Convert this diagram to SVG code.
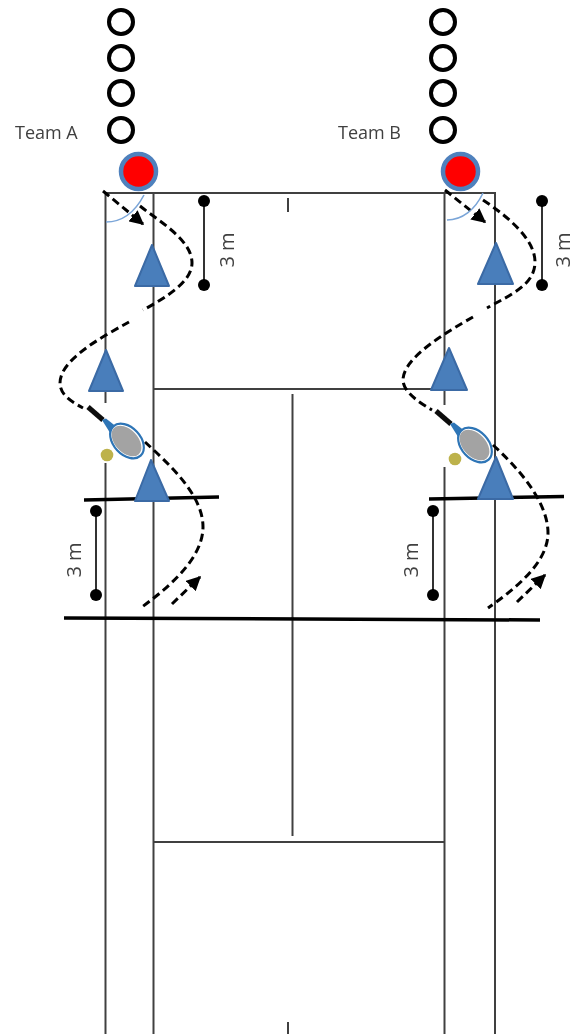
<svg xmlns="http://www.w3.org/2000/svg" width="575" height="1034" viewBox="0 0 575 1034">
<style>
.court{fill:none;stroke:#404040;stroke-width:2}
.thick{fill:none;stroke:#000;stroke-width:3.5}
.dash{fill:none;stroke:#000;stroke-width:3;stroke-dasharray:8 4.500}
.ring{fill:none;stroke:#000;stroke-width:4}
.red{fill:#f00;stroke:#4f81bd;stroke-width:4.500}
.cone{fill:#4a7ebb;stroke:#3a6aa5;stroke-width:2;stroke-linejoin:round}
.arc{fill:none;stroke:#7aa5d8;stroke-width:1.600}
.ball{fill:#bdb24c}
.dim{stroke:#333;stroke-width:2}
.lbl{font-family:"Open Sans","Liberation Sans",sans-serif;font-size:18px;fill:#404040}
.lbl3{font-family:"Open Sans","Liberation Sans",sans-serif;font-size:20px;fill:#404040}
.handle{stroke:#111;stroke-width:5}
.throat{fill:#2e75b6}
.frame{fill:#fff;stroke:#2e75b6;stroke-width:2.200}
.head{fill:#a3a3a3}
</style>
<defs>
<marker id="arrow" viewBox="0 0 10 10" refX="9" refY="5" markerWidth="4.800" markerHeight="4.800" orient="auto" markerUnits="strokeWidth"><path d="M0 0L10 5L0 10z" fill="#000"/></marker>
<filter id="soft" x="-5%" y="-5%" width="110%" height="110%"><feGaussianBlur stdDeviation="0.5"/></filter>
<g id="racket">
<line class="handle" x1="88" y1="407" x2="103" y2="420"/>
<path class="throat" d="M102 420L106 418.500L118 428L112 436z"/>
<ellipse class="frame" cx="127" cy="441" rx="20" ry="13.500" transform="rotate(47 127 441)"/>
<ellipse class="head" cx="126.500" cy="441" rx="18" ry="11.500" transform="rotate(47 126.500 441)"/>
<circle class="ball" cx="107" cy="455" r="6.300"/>
</g>
</defs>
<rect width="575" height="1034" fill="#fff"/>
<g filter="url(#soft)">
<g id="court">
<path class="court" d="M105.500 193V403M105.500 463V1034M153.500 193V1034M444.500 193V405M444.500 467V1034M495 193V1034M104 193H496M154 389H445M292.500 394V836M154 842H445M288 198V212M288 1022V1034"/>
<path class="thick" d="M84 500L219 497M429 499L564 496.500M64 618L540 620"/>
</g>
<g id="connectors">
<path class="dash" d="M103 191L143 224" marker-end="url(#arrow)"/>
<path class="dash" d="M140 206C160 222 192 240 192 263C192 282 165 298 143 310"/>
<path class="dash" d="M129 322C100 338 60 360 60 383C60 395 72 402 83 408"/>
<path class="dash" d="M145 442C170 465 203 495 203 527C203 560 165 590 142 607"/>
<path class="dash" d="M172 604L200 577" marker-end="url(#arrow)"/>
<path class="dash" d="M445 190L485 222" marker-end="url(#arrow)"/>
<path class="dash" d="M483 200C510 218 535 240 535 262C535 285 510 295 487 308"/>
<path class="dash" d="M473 317C445 333 403 358 403 380C403 392 420 403 432 410"/>
<path class="dash" d="M493 445C515 465 548 500 548 533C548 565 510 592 488 608"/>
<path class="dash" d="M517 602L545 575" marker-end="url(#arrow)"/>
<path class="arc" d="M144 195C135 212 122 222 106 222"/>
<path class="arc" d="M483 193C475 210 462 220 447 220"/>
</g>
<g id="team-a-queue">
<circle class="ring" cx="121" cy="22" r="12"/><circle class="ring" cx="121" cy="58" r="12"/><circle class="ring" cx="121" cy="93" r="12"/><circle class="ring" cx="121" cy="130" r="12"/>
</g>
<g id="team-b-queue">
<circle class="ring" cx="443" cy="22" r="12"/><circle class="ring" cx="443" cy="58" r="12"/><circle class="ring" cx="443" cy="93" r="12"/><circle class="ring" cx="443" cy="130" r="12"/>
</g>
<g id="team-a-label"><text class="lbl" x="15" y="138.500">Team A</text></g>
<g id="team-b-label"><text class="lbl" x="338" y="138.500">Team B</text></g>
<g id="player-a"><circle class="red" cx="138.500" cy="171.500" r="17.500"/></g>
<g id="player-b"><circle class="red" cx="460.500" cy="171.500" r="17.500"/></g>
<g id="cones-a">
<path class="cone" d="M152 245L135 286H169z"/>
<path class="cone" d="M106 350L89 391H123z"/>
<path class="cone" d="M151 460L135 501H169z"/>
</g>
<g id="cones-b">
<path class="cone" d="M496 243L478 284H513z"/>
<path class="cone" d="M449 348L431 390H467z"/>
<path class="cone" d="M496 457L478 499H513z"/>
</g>
<g id="racket-a"><use href="#racket"/></g>
<g id="racket-b"><use href="#racket" transform="translate(348 4)"/></g>
<g id="dim-a-top"><line class="dim" x1="204" y1="201" x2="204" y2="285"/><circle cx="204" cy="201" r="6"/><circle cx="204" cy="285" r="6"/><text class="lbl3" transform="translate(234 250) rotate(-90)" text-anchor="middle">3 m</text></g>
<g id="dim-b-top"><line class="dim" x1="542" y1="201" x2="542" y2="285"/><circle cx="542" cy="201" r="6"/><circle cx="542" cy="285" r="6"/><text class="lbl3" transform="translate(570 250) rotate(-90)" text-anchor="middle">3 m</text></g>
<g id="dim-a-bottom"><line class="dim" x1="96" y1="511" x2="96" y2="595"/><circle cx="96" cy="511" r="6"/><circle cx="96" cy="595" r="6"/><text class="lbl3" transform="translate(81 560) rotate(-90)" text-anchor="middle">3 m</text></g>
<g id="dim-b-bottom"><line class="dim" x1="433" y1="511" x2="433" y2="595"/><circle cx="433" cy="511" r="6"/><circle cx="433" cy="595" r="6"/><text class="lbl3" transform="translate(418 560) rotate(-90)" text-anchor="middle">3 m</text></g>
</g>
</svg>
